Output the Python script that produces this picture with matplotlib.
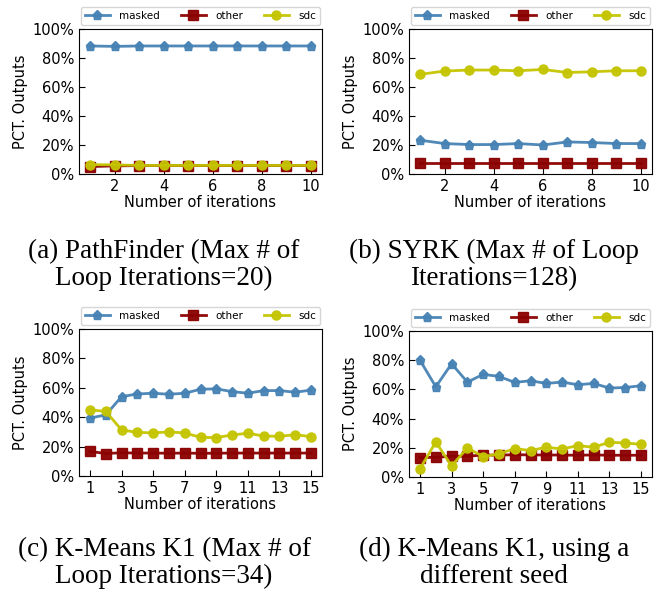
import matplotlib
matplotlib.use("Agg")
import matplotlib.pyplot as plt
import matplotlib.ticker as mticker
import numpy as np

# percentage of outputs per outcome class, by number of loop iterations
iters_short = np.arange(1, 11)
iters_long = np.arange(1, 16)

pathfinder_masked = [88.3, 88.0, 88.3, 88.3, 88.3, 88.3, 88.3, 88.3, 88.3, 88.3]
pathfinder_other = [5.1, 5.6, 5.8, 5.8, 5.8, 5.8, 5.8, 5.8, 5.8, 5.8]
pathfinder_sdc = [6.5, 6.3, 5.9, 5.9, 5.9, 5.9, 5.9, 5.9, 5.9, 5.9]

syrk_masked = [23.3, 21.0, 20.3, 20.3, 21.0, 20.0, 22.1, 21.7, 21.0, 21.0]
syrk_other = [7.4, 7.4, 7.4, 7.4, 7.4, 7.4, 7.4, 7.4, 7.4, 7.4]
syrk_sdc = [68.7, 71.0, 71.7, 71.7, 71.2, 72.1, 70.0, 70.5, 71.2, 71.2]

kmeans_masked = [39.4, 41.6, 54.0, 55.8, 56.3, 55.6, 56.3, 59.0, 59.3, 57.4,
                 56.3, 58.1, 58.1, 57.0, 58.4]
kmeans_other = [16.7, 15.3, 15.8, 15.6, 15.6, 15.5, 15.6, 15.4, 15.5, 15.6,
                15.6, 15.6, 15.6, 15.6, 15.6]
kmeans_sdc = [45.0, 43.9, 31.3, 29.7, 29.3, 30.0, 29.3, 26.3, 26.1, 27.9,
              29.1, 27.2, 27.0, 28.1, 26.8]

seed_masked = [79.9, 61.8, 77.6, 65.0, 70.3, 68.9, 64.8, 65.9, 64.1, 65.0,
               63.2, 64.1, 60.9, 61.3, 62.5]
seed_other = [13.3, 13.5, 14.2, 14.2, 15.1, 14.9, 15.3, 15.1, 15.1, 15.0,
              14.9, 15.1, 14.9, 14.9, 14.9]
seed_sdc = [5.7, 24.0, 7.6, 19.9, 14.0, 15.8, 19.5, 18.1, 20.4, 19.2,
            21.5, 20.4, 23.8, 23.3, 22.4]

captions = [
    "(a) PathFinder (Max # of\nLoop Iterations=20)",
    "(b) SYRK (Max # of Loop\nIterations=128)",
    "(c) K-Means K1 (Max # of\nLoop Iterations=34)",
    "(d) K-Means K1, using a\ndifferent seed",
]

panels = [
    (iters_short, pathfinder_masked, pathfinder_other, pathfinder_sdc, np.arange(2, 11, 2)),
    (iters_short, syrk_masked, syrk_other, syrk_sdc, np.arange(2, 11, 2)),
    (iters_long, kmeans_masked, kmeans_other, kmeans_sdc, np.arange(1, 16, 2)),
    (iters_long, seed_masked, seed_other, seed_sdc, np.arange(1, 16, 2)),
]

W, H = 667, 598
# axes boxes in pixels: left, top, right, bottom
boxes = [(79, 29, 322, 174), (409, 29, 652, 174),
         (79, 329, 322, 476), (409, 331, 652, 477)]
caption_pos = [(164, 265), (494, 265), (164, 563), (494, 563)]

fig = plt.figure(figsize=(W / 100, H / 100), dpi=100)

styles = [("masked", "#4682b4", "p"), ("other", "#8b0000", "s"), ("sdc", "#c4c400", "o")]

for (x, m, o, s, xt), (l, t, r, b), (cx, cy), cap in zip(panels, boxes, caption_pos, captions):
    ax = fig.add_axes([l / W, 1 - b / H, (r - l) / W, (b - t) / H])
    for (name, col, mk), ys in zip(styles, (m, o, s)):
        ax.plot(x, ys, color=col, marker=mk, markersize=6.5, linewidth=2,
                label=name, alpha=0.95)
    ax.set_ylim(0, 100)
    ax.set_yticks(np.arange(0, 101, 20))
    ax.yaxis.set_major_formatter(mticker.FuncFormatter(lambda v, p: f"{v:.0f}%"))
    ax.set_xticks(xt)
    ax.tick_params(direction="in", labelsize=10.5, length=4)
    ax.set_xlabel("Number of iterations", fontsize=10.5, labelpad=1)
    ax.set_ylabel("PCT. Outputs", fontsize=10.5, labelpad=3)
    ax.legend(loc="lower center", bbox_to_anchor=(0.5, 1.03), ncol=3,
              fontsize=7.5, handlelength=2.4, columnspacing=2.0,
              borderpad=0.35, handletextpad=0.9, borderaxespad=0)
    fig.text(cx / W, 1 - cy / H, cap, ha="center", va="center",
             family="Liberation Serif", fontsize=19.5, linespacing=1.1)

fig.savefig("out.png", dpi=100)
